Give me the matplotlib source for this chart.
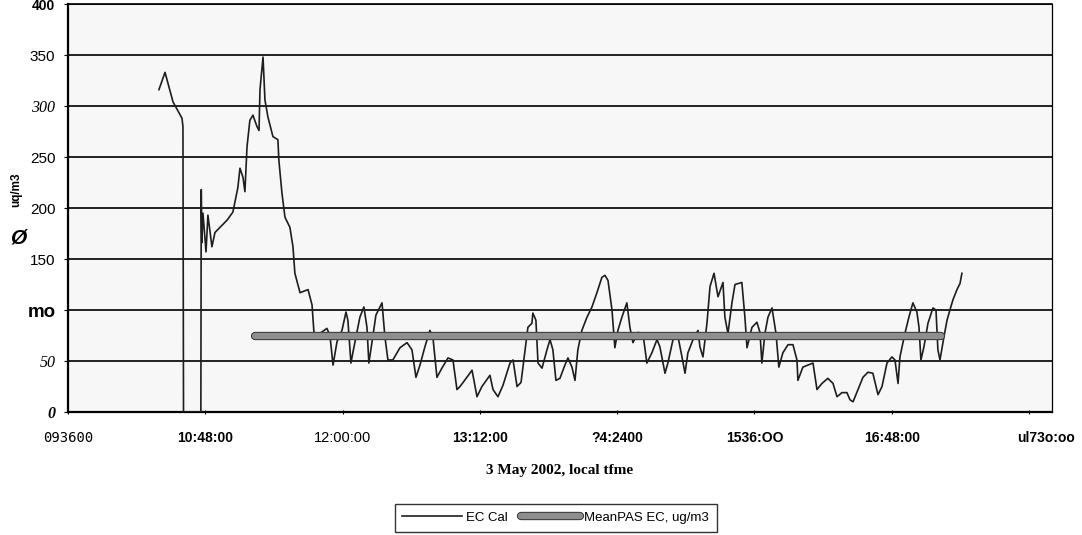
import matplotlib.pyplot as plt
import matplotlib.patheffects as pe
import matplotlib.transforms as mtrans

# EC Cal trace, time in minutes after midnight (3 May 2002), values in ug/m3
ec_time = [623.7, 626.9, 631.1, 635.8, 636.3, 636.6, 645.7, 645.9, 646.2,
           646.8, 648.4, 649.4, 651.5, 653.1, 655.7, 659.4, 662.5, 665.1, 666.2,
           667.8, 668.8, 669.9, 671.4, 673.0, 675.1, 676.2, 676.7, 678.3, 679.3,
           680.9, 683.5, 686.1, 686.6, 688.2, 689.8, 692.4, 694.0, 695.0, 697.7,
           701.9, 704.0, 705.0, 708.1, 711.8, 713.4, 715.0, 717.1, 719.7, 721.8,
           722.8, 724.4, 725.5, 729.1, 731.2, 732.8, 733.8, 735.4, 737.5, 740.7,
           742.2, 743.8, 746.4, 750.1, 753.8, 756.4, 758.5, 760.6, 763.2, 765.8,
           767.4, 769.5, 772.1, 775.3, 777.9, 780.0, 781.6, 785.2, 787.9, 790.5,
           793.1, 797.3, 798.9, 801.5, 804.1, 807.8, 809.4, 811.5, 813.6, 815.7,
           817.2, 819.3, 819.8, 821.4, 822.5, 824.6, 827.2, 828.8, 830.3, 831.9,
           834.0, 836.6, 838.2, 840.3, 841.9, 843.4, 845.5, 848.2, 850.8, 853.4,
           856.0, 857.6, 859.2, 861.3, 862.8, 864.4, 866.5, 869.1, 870.7, 872.3,
           874.9, 877.5, 879.6, 882.2, 884.9, 886.4, 889.1, 890.6, 893.3, 895.9,
           898.0, 899.6, 901.1, 903.8, 906.4, 907.4, 909.0, 911.1, 912.7, 914.8,
           916.9, 919.5, 920.5, 922.1, 924.2, 925.8, 929.4, 931.0, 932.1, 934.7,
           937.3, 938.9, 939.9, 941.5, 943.1, 945.2, 947.3, 948.8, 950.9, 953.6,
           956.2, 958.3, 958.8, 961.4, 964.1, 966.7, 968.8, 971.4, 974.5, 977.2,
           979.3, 981.9, 984.5, 986.1, 987.7, 990.3, 992.9, 995.5, 998.1, 1000.8,
           1002.9, 1005.5, 1008.1, 1009.7, 1011.3, 1012.3, 1014.9, 1017.0, 1019.1,
           1021.2, 1022.3, 1023.3, 1024.9, 1027.0, 1029.6, 1031.2, 1032.2, 1033.3,
           1035.4, 1037.0, 1038.5, 1040.1, 1042.2, 1043.8, 1044.8]
ec_val = [316, 333, 304, 288, 280, 0, 0, 218, 166,
          195, 157, 193, 162, 176, 181, 188, 196, 220, 239,
          230, 216, 260, 286, 291, 280, 276, 316, 348, 306,
          289, 270, 267, 247, 215, 191, 181, 162, 136, 117,
          120, 105, 78, 77, 82, 75, 46, 69, 80, 98,
          90, 48, 59, 93, 103, 83, 48, 68, 95, 107,
          74, 51, 51, 63, 68, 61, 34, 46, 64, 80,
          73, 34, 43, 53, 51, 22, 25, 34, 41, 15,
          25, 36, 22, 15, 26, 48, 51, 25, 29, 61,
          83, 87, 97, 90, 48, 43, 61, 71, 61, 31,
          33, 46, 53, 44, 31, 61, 80, 93, 103, 117,
          132, 134, 129, 100, 63, 80, 93, 107, 83, 68,
          78, 77, 48, 58, 71, 64, 38, 48, 71, 74,
          54, 38, 58, 71, 80, 64, 54, 87, 123, 136,
          113, 127, 93, 77, 107, 125, 127, 93, 63, 83,
          88, 78, 48, 77, 93, 102, 77, 44, 58, 66,
          66, 51, 31, 44, 46, 48, 22, 28, 33, 28,
          15, 19, 19, 12, 10, 22, 34, 39, 38, 17,
          25, 48, 54, 51, 28, 54, 77, 93, 107,
          98, 83, 51, 64, 87, 102, 100, 61, 51,
          74, 90, 100, 110, 120, 126, 136]

mean_time = [674, 1034]
mean_val = [75, 75]

x_ticks = [576, 648, 720, 792, 864, 936, 1008, 1080]
x_labels = ["093600", "10:48:00", "12:00:00", "13:12:00", "?4:2400", "1536:OO", "16:48:00", "ul73o:oo"]
y_ticks = [0, 50, 100, 150, 200, 250, 300, 350, 400]
y_labels = ["0", "50", "mo", "150", "200", "250", "300", "350", "400"]

fig = plt.figure(figsize=(10.82, 5.35), dpi=100, facecolor='white')
ax = fig.add_axes([0.0628, 0.2299, 0.9094, 0.7626])
ax.set_facecolor('#f7f7f7')

ax.plot(ec_time, ec_val, color='#1e1e1e', lw=1.2, label='EC Cal', zorder=3)
ax.plot(mean_time, mean_val, color='#8e8e8e', lw=4.5, solid_capstyle='round',
        label='MeanPAS EC, ug/m3', zorder=4,
        path_effects=[pe.Stroke(linewidth=6, foreground='#3a3a3a'), pe.Normal()])

ax.set_xlim(576, 1092)
ax.set_ylim(0, 400)
ax.set_yticks(y_ticks)
ax.set_xticks(x_ticks)
ax.yaxis.grid(True, color='#111111', lw=1.3)
ax.set_axisbelow(True)

for s in ['left', 'bottom']:
    ax.spines[s].set_linewidth(1.6)
ax.spines['right'].set_linewidth(0.9)
ax.spines['top'].set_linewidth(1.2)

ax.tick_params(axis='x', length=3, direction='inout', pad=12)
ax.tick_params(axis='y', length=3, direction='out', pad=6)

# tick label fonts differ from label to label in the scan
y_styles = [dict(family='Liberation Serif', style='italic', weight='bold', size=11.5),
            dict(family='Liberation Serif', style='italic', size=11.5),
            dict(family='Liberation Sans', weight='bold', size=13.5),
            dict(family='Liberation Sans', size=11),
            dict(family='Liberation Sans', size=11),
            dict(family='Liberation Sans', size=11),
            dict(family='Liberation Serif', style='italic', size=11.5),
            dict(family='Liberation Sans', size=11),
            dict(family='Liberation Sans', weight='bold', size=10)]
ax.set_yticklabels(y_labels)
for lab, st in zip(ax.get_yticklabels(), y_styles):
    lab.set(**st)

x_styles = [dict(family='DejaVu Sans Mono', size=10),
            dict(family='Liberation Sans', weight='bold', size=10),
            dict(family='Liberation Sans', size=10.5),
            dict(family='Liberation Sans', weight='bold', size=10),
            dict(family='Liberation Sans', weight='bold', size=10),
            dict(family='Liberation Sans', weight='bold', size=10),
            dict(family='Liberation Sans', weight='bold', size=10),
            dict(family='Liberation Sans', weight='bold', size=10)]
ax.set_xticklabels(x_labels)
for lab, st in zip(ax.get_xticklabels(), x_styles):
    lab.set(**st)
last_lab = ax.get_xticklabels()[-1]
last_lab.set_transform(last_lab.get_transform() +
                       mtrans.ScaledTranslation(12 / 72, 0, fig.dpi_scale_trans))

ax.set_xlabel('3 May 2002, local tfme', family='Liberation Serif', weight='bold',
              size=11, labelpad=14)

fig.text(0.015, 0.645, 'uq/m3', rotation=90, family='Liberation Sans', weight='bold',
         size=8.5, ha='center', va='center')
fig.text(0.017, 0.555, 'Ø', family='Liberation Sans', weight='bold', style='italic',
         size=15, ha='center', va='center')

leg = fig.legend(loc='center', bbox_to_anchor=(0.5135, 0.032), ncol=2, frameon=True,
                 fancybox=False, edgecolor='black', handlelength=4.5, columnspacing=1.0,
                 handletextpad=0.3, borderpad=0.6,
                 prop={'family': 'Liberation Sans', 'size': 9.5})
leg.get_frame().set_linewidth(1.0)

fig.savefig('out.png', dpi=100, facecolor=fig.get_facecolor())
